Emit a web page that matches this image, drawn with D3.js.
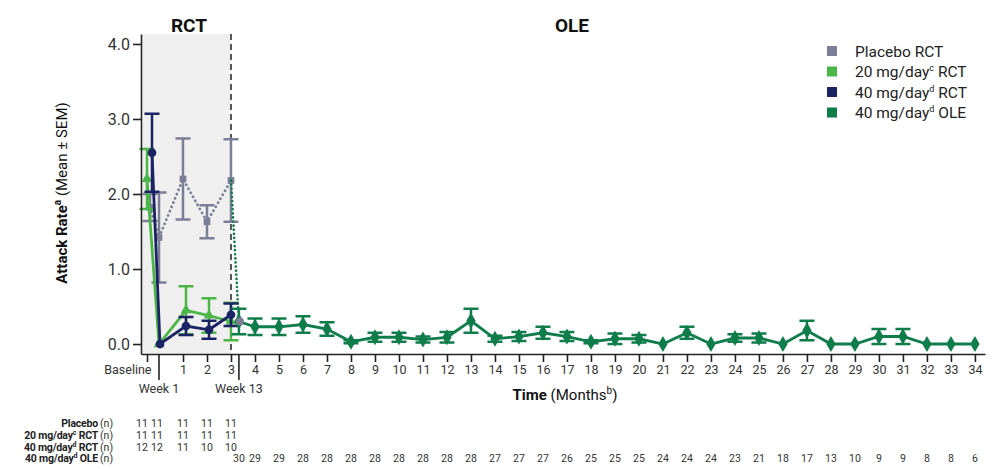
<!DOCTYPE html>
<html>
<head>
<meta charset="utf-8">
<script src="https://cdn.jsdelivr.net/npm/d3@7"></script>
<style>
  body { margin: 0; background: #fff; }
  svg { display: block; font-family: Roboto, "Noto Sans", sans-serif; }
</style>
</head>
<body>
<div id="chart"></div>
<script>
// RCT time points (months; baseline drawn left of week 1)
const rctTimes = [-0.5, 0, 1, 2, 3];
const placeboMean = [1.82, 1.42, 2.2, 1.63, 2.18];
const placeboSem = [0.18, 0.6, 0.54, 0.22, 0.55];
const mg20Mean = [2.2, 0, 0.45, 0.38, 0.3];
const mg20Sem = [0.4, 0, 0.32, 0.23, 0.25];
const mg40Mean = [2.55, 0, 0.24, 0.19, 0.39];
const mg40Sem = [0.52, 0, 0.12, 0.12, 0.15];

// OLE starts at week 13, then monthly 4..34
const oleTimes = [3.33].concat(d3.range(4, 35));
const oleMean = [0.3, 0.23, 0.23, 0.26, 0.2, 0.03, 0.09, 0.09, 0.06, 0.09, 0.31, 0.07, 0.1, 0.15, 0.1, 0.03,
  0.07, 0.07, 0, 0.15, 0, 0.08, 0.08, 0, 0.18, 0, 0, 0.1, 0.1, 0, 0, 0];
const oleSem = [0.17, 0.11, 0.11, 0.11, 0.09, 0.02, 0.06, 0.06, 0.04, 0.07, 0.16, 0.04, 0.06, 0.08, 0.06, 0.02,
  0.07, 0.05, 0, 0.08, 0, 0.05, 0.06, 0, 0.13, 0, 0, 0.1, 0.1, 0, 0, 0];

// patient counts
const nPlacebo = [11, 11, 11, 11, 11];
const n20 = [11, 11, 11, 11, 11];
const n40 = [12, 12, 11, 10, 10];
const nOle = [30, 29, 29, 28, 28, 28, 28, 28, 28, 28, 28, 27, 27, 27, 26, 25, 25, 25, 24, 24, 24, 23, 21, 18, 17, 13, 10, 9, 9, 8, 8, 6];

const monthTicks = d3.range(1, 35);
const yTicks = [0, 1, 2, 3, 4];

const colors = {
  placebo: '#7b7e96',
  mg20: '#4cb648',
  mg40: '#1c2364',
  ole: '#0f7d4b'
};

const width = 1000, height = 469;
const svg = d3.select('#chart').append('svg')
  .attr('width', width).attr('height', height);

const x = d3.scaleLinear().domain([-0.75, 34.42]).range([141, 985]);
const y = d3.scaleLinear().domain([-0.133, 4.133]).range([354, 34]);

// RCT shaded band and divider
svg.append('rect')
  .attr('x', x(-0.67)).attr('y', y(4.133))
  .attr('width', x(3) - x(-0.67)).attr('height', y(-0.133) - y(4.133))
  .attr('fill', '#efefef');

svg.append('line')
  .attr('x1', x(3)).attr('x2', x(3))
  .attr('y1', y(4.133)).attr('y2', y(-0.133))
  .attr('stroke', '#222').attr('stroke-width', 1.5)
  .attr('stroke-dasharray', '6,4');

// section titles
svg.append('text').attr('x', 189).attr('y', 32).attr('text-anchor', 'middle')
  .attr('font-size', 19).attr('font-weight', 'bold').attr('fill', '#111').text('RCT');
svg.append('text').attr('x', 572).attr('y', 32).attr('text-anchor', 'middle')
  .attr('font-size', 19).attr('font-weight', 'bold').attr('fill', '#111').text('OLE');

// helpers
function errorBars(g, times, means, sems, color, dx) {
  const cap = 7.5;
  times.forEach((t, i) => {
    if (!sems[i]) return;
    const cx = x(t) + (dx ? dx[i] : 0);
    const lo = Math.max(0, means[i] - sems[i]), hi = means[i] + sems[i];
    g.append('line').attr('x1', cx).attr('x2', cx).attr('y1', y(lo)).attr('y2', y(hi))
      .attr('stroke', color).attr('stroke-width', 2.5);
    [lo, hi].forEach(v => g.append('line')
      .attr('x1', cx - cap).attr('x2', cx + cap).attr('y1', y(v)).attr('y2', y(v))
      .attr('stroke', color).attr('stroke-width', 2.5));
  });
}

function series(times, means, sems, color, symbol, size, dash, dx) {
  const g = svg.append('g');
  const pts = times.map((t, i) => [x(t) + (dx ? dx[i] : 0), y(means[i])]);
  g.append('path')
    .attr('d', d3.line()(pts))
    .attr('fill', 'none').attr('stroke', color)
    .attr('stroke-width', dash ? 2.8 : 2.8)
    .attr('stroke-dasharray', dash || null)
    .attr('stroke-linecap', dash ? 'round' : null);
  errorBars(g, times, means, sems, color, dx);
  g.selectAll('path.m').data(pts).join('path')
    .attr('class', 'm')
    .attr('transform', d => `translate(${d[0]},${d[1]})`)
    .attr('d', d3.symbol().type(symbol).size(size))
    .attr('fill', color);
  return g;
}

// placebo (dotted)
series(rctTimes, placeboMean, placeboSem, colors.placebo, d3.symbolSquare, 45, '0.1,4.5', [3, 0, 0, 0, 0]);
// transition from placebo RCT to OLE (dotted)
svg.append('path')
  .attr('d', d3.line()([[x(3), y(placeboMean[4])], [x(3.33), y(oleMean[0])]]))
  .attr('stroke', colors.ole).attr('stroke-width', 2.6)
  .attr('stroke-dasharray', '0.1,4').attr('stroke-linecap', 'round').attr('fill', 'none');

series(rctTimes, mg20Mean, mg20Sem, colors.mg20, d3.symbolTriangle, 50, null, [0, 0, 3, 2, 0]);
series(rctTimes, mg40Mean, mg40Sem, colors.mg40, d3.symbolCircle, 60, null, [5, 1, 3, 2, 0]);
series(oleTimes, oleMean, oleSem, colors.ole, d3.symbolDiamond, 75, null, null);

// grey marker at OLE start
svg.append('circle').attr('cx', x(3.33) + 1).attr('cy', y(oleMean[0])).attr('r', 4)
  .attr('fill', colors.placebo);

// y axis
const yAxis = svg.append('g').attr('transform', `translate(${x(-0.75)},0)`)
  .call(d3.axisLeft(y).tickValues(yTicks).tickFormat(d3.format('.1f')).tickSize(8).tickSizeOuter(0));
yAxis.select('.domain').attr('stroke', '#222').attr('stroke-width', 1.6);
yAxis.selectAll('.tick line').attr('stroke', '#222').attr('stroke-width', 1.6);
yAxis.selectAll('.tick text').attr('font-size', 16).attr('fill', '#333')
  .attr('font-family', 'Roboto, sans-serif').attr('x', -11);

// x axis
const xAxis = svg.append('g').attr('transform', `translate(0,${y(-0.133)})`)
  .call(d3.axisBottom(x).tickValues([-0.5].concat(monthTicks))
    .tickFormat(d => d < 0 ? 'Baseline' : d).tickSize(8).tickSizeOuter(0));
xAxis.select('.domain').attr('stroke', '#222').attr('stroke-width', 1.6);
xAxis.selectAll('.tick line').attr('stroke', '#222').attr('stroke-width', 1.6);
xAxis.selectAll('.tick text').attr('font-size', 12.5).attr('fill', '#333')
  .attr('font-family', 'Roboto, sans-serif').attr('y', 11);
xAxis.selectAll('.tick text').filter(d => d < 0)
  .attr('text-anchor', 'end').attr('dx', 4);

// tall week ticks
[0, 3.33].forEach(t => {
  svg.append('line').attr('x1', x(t)).attr('x2', x(t))
    .attr('y1', y(-0.133)).attr('y2', y(-0.133) + 26)
    .attr('stroke', '#222').attr('stroke-width', 1.6);
});
svg.append('text').attr('x', x(0)).attr('y', 393).attr('text-anchor', 'middle')
  .attr('font-size', 12.5).attr('fill', '#333').text('Week 1');
svg.append('text').attr('x', x(3.33)).attr('y', 393).attr('text-anchor', 'middle')
  .attr('font-size', 12.5).attr('fill', '#333').text('Week 13');

// axis titles
const xt = svg.append('text').attr('x', 565).attr('y', 400).attr('text-anchor', 'middle')
  .attr('font-size', 15).attr('fill', '#111');
xt.append('tspan').attr('font-weight', 'bold').text('Time');
xt.append('tspan').text(' (Months');
xt.append('tspan').attr('font-size', 10).attr('dy', -6).text('b');
xt.append('tspan').attr('dy', 6).text(')');

const yt = svg.append('text').attr('transform', 'translate(67,193) rotate(-90)')
  .attr('text-anchor', 'middle').attr('font-size', 15).attr('fill', '#111');
yt.append('tspan').attr('font-weight', 'bold').text('Attack Rate');
yt.append('tspan').attr('font-size', 10).attr('font-weight', 'bold').attr('dy', -6).text('a');
yt.append('tspan').attr('dy', 6).text(' (Mean ± SEM)');

// legend
const legendItems = [
  { label: 'Placebo RCT', sup: null, tail: '', color: colors.placebo },
  { label: '20 mg/day', sup: 'c', tail: ' RCT', color: colors.mg20 },
  { label: '40 mg/day', sup: 'd', tail: ' RCT', color: colors.mg40 },
  { label: '40 mg/day', sup: 'd', tail: ' OLE', color: colors.ole }
];
legendItems.forEach((d, i) => {
  const cy = 51 + i * 20.5;
  svg.append('rect').attr('x', 827).attr('y', cy - 5).attr('width', 10).attr('height', 10)
    .attr('fill', d.color);
  const t = svg.append('text').attr('x', 855).attr('y', cy + 5.5)
    .attr('font-size', 15.5).attr('fill', '#222');
  t.append('tspan').text(d.label);
  if (d.sup) {
    t.append('tspan').attr('font-size', 9).attr('dy', -6).text(d.sup);
    t.append('tspan').attr('dy', 6).text(d.tail);
  }
});

// number-at-risk table
const rows = [
  { label: 'Placebo', sup: null, tail: '', times: rctTimes, n: nPlacebo },
  { label: '20 mg/day', sup: 'c', tail: ' RCT', times: rctTimes, n: n20 },
  { label: '40 mg/day', sup: 'd', tail: ' RCT', times: rctTimes, n: n40 },
  { label: '40 mg/day', sup: 'd', tail: ' OLE', times: oleTimes, n: nOle }
];
const rctShift = [-5, -2, 0, 0, 0];
rows.forEach((r, i) => {
  const by = 427 + i * 11.8;
  const t = svg.append('text').attr('x', 98).attr('y', by).attr('text-anchor', 'end')
    .attr('font-size', 10.5).attr('font-weight', 'bold').attr('fill', '#222')
    .attr('letter-spacing', -0.2);
  t.append('tspan').text(r.label);
  if (r.sup) {
    t.append('tspan').attr('font-size', 7).attr('dy', -4).text(r.sup);
    t.append('tspan').attr('dy', 4).text(r.tail);
  }
  svg.append('text').attr('x', 100).attr('y', by).attr('font-size', 10.5)
    .attr('fill', '#333').text('(n)');
  svg.selectAll(null).data(r.n).join('text')
    .attr('x', (d, j) => x(r.times[j]) + (i < 3 ? rctShift[j] : 0))
    .attr('y', by).attr('text-anchor', 'middle')
    .attr('font-size', 10.5).attr('fill', '#333').text(d => d);
});
</script>
</body>
</html>
